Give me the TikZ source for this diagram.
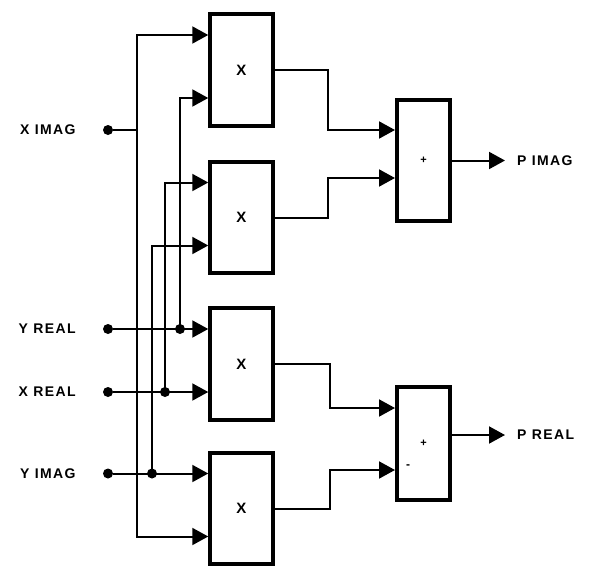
\documentclass[tikz,border=0pt]{standalone}
\usepackage{fontspec}
\setmainfont{Liberation Sans}
\usetikzlibrary{arrows.meta,positioning}
\tikzset{
  mulbox/.style={draw,line width=4pt,minimum width=62.5pt,minimum height=111.5pt,inner sep=0pt,font=\fontsize{15}{16}\selectfont\bfseries},
  addbox/.style={mulbox,minimum width=53pt,font=\fontsize{11}{12}\selectfont\bfseries},
  wire/.style={line width=2pt},
  ar/.style={wire,-{Triangle[length=16pt,width=17pt]}},
  jdot/.style={circle,fill,inner sep=0pt,minimum size=10pt},
  inlbl/.style={font=\fontsize{14}{16}\selectfont\bfseries\addfontfeature{LetterSpace=10},inner sep=0pt},
}
\begin{document}
\begin{tikzpicture}[x=1pt,y=-1pt]
  \useasboundingbox (0,0) rectangle (590,571);
  \node[mulbox] (m1) at (241.5,70) {X};
  \node[mulbox,below=32pt of m1] (m2) {X};
  \node[mulbox,below=31pt of m2] (m3) {X};
  \node[mulbox,below=29pt of m3] (m4) {X};
  \foreach \m in {m1,m2,m3,m4}{
    \coordinate (\m-a) at ([yshift=35pt]\m.west);
    \coordinate (\m-b) at ([yshift=-28pt]\m.west);
  }
  \node[addbox,minimum height=121pt] (a1) at (423.5,160.5) {+};
  \node[addbox,minimum height=113pt,below=162pt of a1] (a2) {+};
  \coordinate (a1-a) at ([yshift=30.5pt]a1.west);
  \coordinate (a1-b) at ([yshift=-17.5pt]a1.west);
  \coordinate (a2-a) at ([yshift=35.5pt]a2.west);
  \coordinate (a2-b) at ([yshift=-26.5pt]a2.west);
  \node[font=\fontsize{12}{12}\selectfont\bfseries,inner sep=0pt] (minus) at ([xshift=13pt,yshift=3pt]a2-b) {-};

  \node[jdot] (xim) at (108,130) {};
  \node[jdot] (yre) at (xim |- m3-a) {};
  \node[jdot] (xre) at (xim |- m3-b) {};
  \node[jdot] (yim) at (xim |- m4-a) {};
  \node[inlbl,left=27pt of xim] (ximl) {X IMAG};
  \node[inlbl,left=27pt of yre] (yrel) {Y REAL};
  \node[inlbl,left=27pt of xre] (xrel) {X REAL};
  \node[inlbl,left=27pt of yim] (yiml) {Y IMAG};

  \coordinate (bxi) at (137,0);
  \coordinate (byi) at (152,0);
  \coordinate (bxr) at (165,0);
  \coordinate (byr) at (180,0);
  \draw[wire] (xim) -- (bxi |- xim);
  \draw[ar] (bxi |- xim) |- (m1-a);
  \draw[ar] (bxi |- xim) |- (m4-b);
  \draw[ar] (yre) -- (m3-a);
  \draw[ar] (xre) -- (m3-b);
  \draw[ar] (yim) -- (m4-a);
  \node[jdot] (jyr) at (byr |- yre) {};
  \node[jdot] (jxr) at (bxr |- xre) {};
  \node[jdot] (jyi) at (byi |- yim) {};
  \draw[ar] (jyr.center) |- (m1-b);
  \draw[ar] (jxr.center) |- (m2-a);
  \draw[ar] (jyi.center) |- (m2-b);

  \coordinate (jt) at (328,0);
  \coordinate (jb) at (330,0);
  \draw[ar] (m1.east) -- (jt |- m1.east) |- (a1-a);
  \draw[ar] (m2.east) -- (jt |- m2.east) |- (a1-b);
  \draw[ar] (m3.east) -- (jb |- m3.east) |- (a2-a);
  \draw[ar] (m4.east) -- (jb |- m4.east) |- (a2-b);

  \node[inlbl,right=65pt of a1] (pim) {P IMAG};
  \node[inlbl,right=65pt of a2,yshift=8.5pt] (pre) {P REAL};
  \draw[ar,shorten >=12pt] (a1) -- (pim);
  \draw[ar,shorten >=12pt] (a2.east |- pre) -- (pre);
\end{tikzpicture}
\end{document}
